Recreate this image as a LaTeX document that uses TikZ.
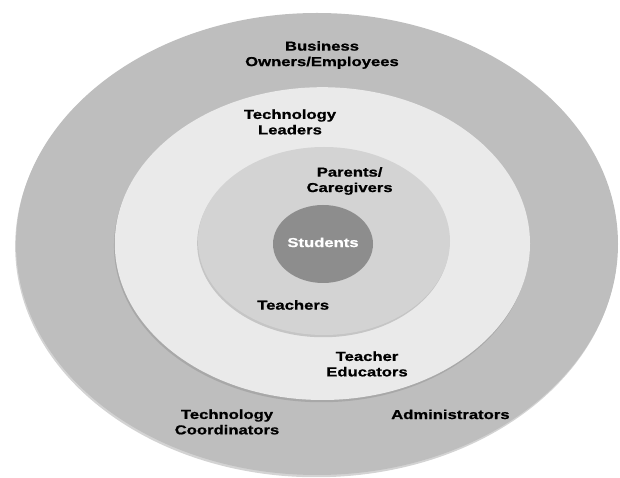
\documentclass[tikz,border=0pt]{standalone}
\usepackage{fontspec}
\setmainfont{Liberation Sans}[FakeStretch=1.28,BoldFeatures={FakeBold=0.8}]
\usepackage{xcolor}
\definecolor{rgouter}{RGB}{190,190,190}
\definecolor{rgmiddle}{RGB}{234,234,234}
\definecolor{rginner}{RGB}{211,211,211}
\definecolor{rgcore}{RGB}{141,141,141}
\usetikzlibrary{shadows}

\begin{document}
\begin{tikzpicture}[every node/.style={font=\fontsize{9.25}{11}\selectfont\bfseries,align=center},
  ring/.style={drop shadow={shadow xshift=-0.6pt,shadow yshift=-1.6pt,opacity=0.35}}]
  \useasboundingbox (0,0) rectangle (15.5,11.95);

  % Rings, outside in
  \fill[rgouter,ring]  (7.925,5.85) ellipse [x radius=7.525,y radius=5.775];
  \fill[rgmiddle,ring] (8.06,5.86)  ellipse [x radius=5.19,y radius=3.91];
  \fill[rginner,ring]  (8.10,5.925) ellipse [x radius=3.15,y radius=2.35];
  \fill[rgcore]        (8.075,5.85) ellipse [x radius=1.25,y radius=0.975];

  % Outer ring labels
  \node (business) at (8.05, 10.575) {Business\\Owners/Employees};
  \node (techcoord) at (5.675, 1.40) {Technology\\Coordinators};
  \node (admin) at (11.26, 1.59) {Administrators};

  % Middle ring labels
  \node (techleaders) at (7.25, 8.90) {Technology\\Leaders};
  \node (teachered) at (9.175, 2.85) {Teacher\\Educators};

  % Inner ring labels
  \node (parents) at (8.74, 7.425) {Parents/\\Caregivers};
  \node (teachers) at (7.33, 4.325) {Teachers};

  % Core
  \node[text=white] (students) at (8.075, 5.89) {Students};
\end{tikzpicture}
\end{document}
